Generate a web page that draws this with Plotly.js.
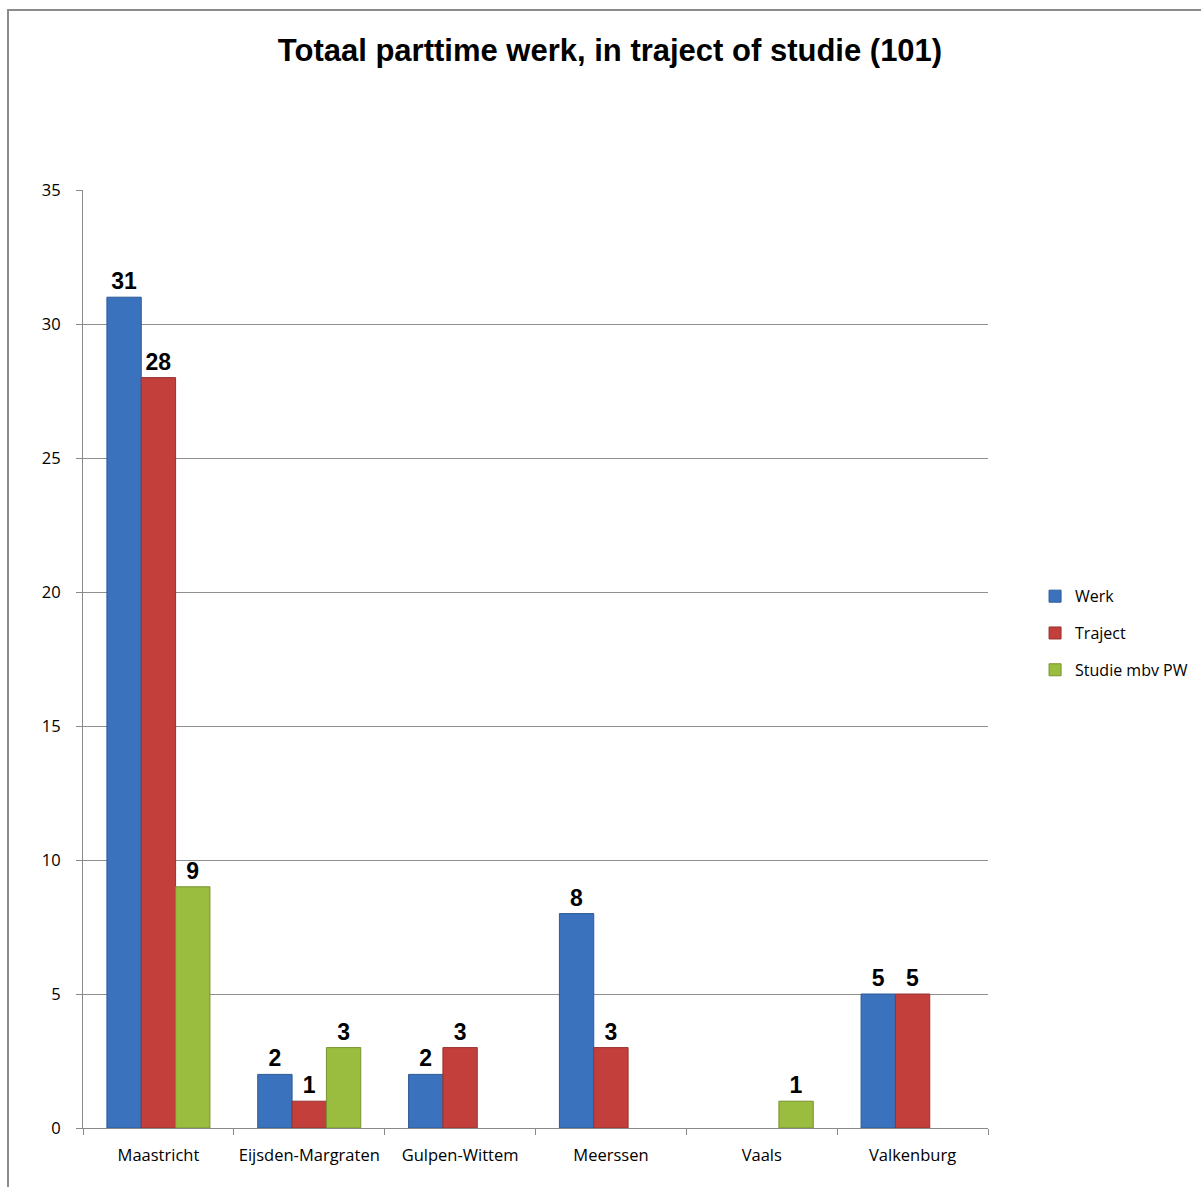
<!DOCTYPE html>
<html>
<head>
<meta charset="utf-8">
<script src="https://cdn.plot.ly/plotly-3.0.1.min.js"></script>
<style>html,body{margin:0;padding:0;background:#fff;}#chart{width:1201px;height:1187px;}</style>
</head>
<body>
<div id="chart"></div>
<script>
var categories = ["Maastricht", "Eijsden-Margraten", "Gulpen-Wittem", "Meerssen", "Vaals", "Valkenburg"];
var werk = [31, 2, 2, 8, null, 5];
var traject = [28, 1, 3, 3, null, 5];
var studie = [9, 3, null, null, 1, null];
var seriesNames = ["Werk", "Traject", "Studie mbv PW"];
var yTicks = [0, 5, 10, 15, 20, 25, 30, 35];

var colors = ["#3b72bd", "#c23f3c", "#9abd3f"];
var lines = ["#2c5a96", "#973230", "#76922f"];
var series = [werk, traject, studie];

var traces = series.map(function (vals, i) {
  return {
    type: "bar",
    name: seriesNames[i],
    legendgroup: "g" + i,
    x: categories,
    y: vals,
    text: vals.map(function (v) { return v === null ? "" : String(v); }),
    textposition: "outside",
    cliponaxis: false,
    textfont: {family: "Liberation Sans, Arial, sans-serif", size: 23, color: "#000", weight: "bold"},
    marker: {color: colors[i], line: {color: lines[i], width: 1}},
    hoverinfo: "x+y+name"
  };
});

var tickFont = {family: "Open Sans, Liberation Sans, sans-serif", size: 16.5, color: "#000"};

var layout = {
  width: 1201,
  height: 1187,
  paper_bgcolor: "#ffffff",
  plot_bgcolor: "#ffffff",
  margin: {l: 83, r: 213, t: 190, b: 59, pad: 0, autoexpand: false},
  barmode: "group",
  bargap: 0.317,
  bargroupgap: 0,
  title: {
    text: "<b>Totaal parttime werk, in traject of studie (101)</b>",
    font: {family: "Liberation Sans, Arial, sans-serif", size: 31, color: "#000"},
    x: 610 / 1201, xanchor: "center", xref: "container",
    y: 1 - 50 / 1187, yanchor: "middle", yref: "container"
  },
  font: tickFont,
  xaxis: {
    type: "category",
    showgrid: false,
    showline: true,
    linecolor: "#8a8a8a",
    linewidth: 1,
    ticks: "outside",
    tickson: "boundaries",
    ticklen: 6,
    tickcolor: "#8a8a8a",
    tickfont: tickFont,
    ticklabelstandoff: 12,
    fixedrange: true
  },
  yaxis: {
    range: [0, 35],
    tickvals: yTicks,
    showgrid: true,
    gridcolor: "#8f8f8f",
    gridwidth: 1,
    zeroline: false,
    showline: true,
    linecolor: "#8a8a8a",
    linewidth: 1,
    ticks: "outside",
    ticklen: 6,
    tickcolor: "#8a8a8a",
    tickfont: tickFont,
    ticklabelstandoff: 12,
    fixedrange: true
  },
  legend: {
    x: 1.052, xanchor: "left",
    y: 0.585, yanchor: "top",
    font: {family: "Open Sans, Liberation Sans, sans-serif", size: 16, color: "#000"},
    tracegroupgap: 13,
    traceorder: "grouped",
    itemwidth: 30,
    itemclick: false, itemdoubleclick: false
  },
  shapes: [{
    type: "rect", xref: "paper", yref: "paper",
    x0: (8 - 83) / 905, x1: (1240 - 83) / 905,
    y0: (59 - 1240) / 938 , y1: (1128 - 10) / 938,
    line: {color: "#8c8c8c", width: 2}, fillcolor: "rgba(0,0,0,0)", layer: "below"
  }],
  showlegend: true
};

Plotly.newPlot("chart", traces, layout, {displayModeBar: false, staticPlot: true});
</script>
</body>
</html>
